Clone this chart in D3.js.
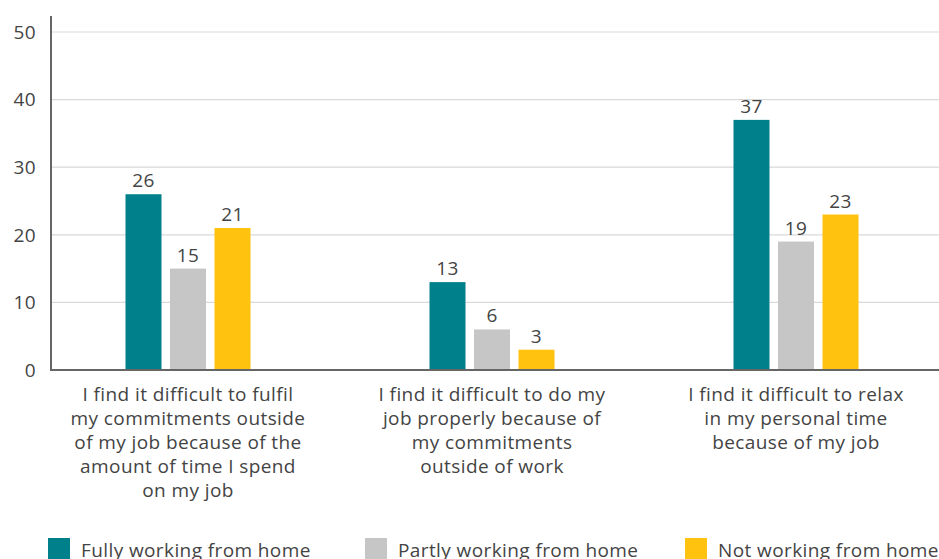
<!DOCTYPE html>
<html>
<head>
<meta charset="utf-8">
<script src="https://cdn.jsdelivr.net/npm/d3@7"></script>
<style>
  html, body { margin: 0; padding: 0; background: #fff; }
  svg { display: block; font-family: "Open Sans", "Lato", sans-serif; letter-spacing: 0.4px; }
</style>
</head>
<body>
<svg id="chart" width="939" height="559"></svg>
<script>
// Survey statements (category labels, pre-broken into lines)
const categories = [
  ["I find it difficult to fulfil", "my commitments outside", "of my job because of the", "amount of time I spend", "on my job"],
  ["I find it difficult to do my", "job properly because of", "my commitments", "outside of work"],
  ["I find it difficult to relax", "in my personal time", "because of my job"]
];
const seriesNames = ["Fully working from home", "Partly working from home", "Not working from home"];
const fullyValues = [26, 13, 37];
const partlyValues = [15, 6, 19];
const notValues = [21, 3, 23];
const yTicks = [0, 10, 20, 30, 40, 50];
const colors = ["#00808A", "#C6C6C6", "#FFC20E"];

const seriesValues = [fullyValues, partlyValues, notValues];
const svg = d3.select("#chart");

const axisX = 51, plotRight = 939;
const y = d3.scaleLinear().domain([0, 50]).range([370, 32]);

const catIdx = categories.map((_, i) => i);
const x0 = d3.scaleBand().domain(catIdx).range([36, 948]);
const x1 = d3.scaleBand().domain(d3.range(seriesNames.length))
  .range([-62.5, 62.5]).paddingInner(0.191);

// Gridlines
svg.append("g").selectAll("line").data(yTicks.filter(t => t > 0)).join("line")
  .attr("x1", axisX).attr("x2", plotRight)
  .attr("y1", d => y(d)).attr("y2", d => y(d))
  .attr("stroke", "#d9d9d9").attr("stroke-width", 1.2);

// Y tick labels
svg.append("g").selectAll("text").data(yTicks).join("text")
  .attr("x", 36).attr("y", d => y(d)).attr("dy", "0.36em")
  .attr("text-anchor", "end").attr("font-size", 19).attr("fill", "#444")
  .text(d => d);

// Bars
const groups = svg.append("g").selectAll("g").data(catIdx).join("g")
  .attr("transform", i => `translate(${x0(i) + x0.bandwidth() / 2},0)`);

groups.selectAll("rect").data(i => seriesValues.map((vals, s) => ({ s, v: vals[i] }))).join("rect")
  .attr("x", d => x1(d.s)).attr("width", x1.bandwidth())
  .attr("y", d => y(d.v)).attr("height", d => y(0) - y(d.v))
  .attr("fill", d => colors[d.s]);

groups.selectAll("text.val").data(i => seriesValues.map((vals, s) => ({ s, v: vals[i] }))).join("text")
  .attr("class", "val")
  .attr("x", d => x1(d.s) + x1.bandwidth() / 2).attr("y", d => y(d.v) - 7)
  .attr("text-anchor", "middle").attr("font-size", 19).attr("fill", "#444")
  .text(d => d.v);

// Axes lines
svg.append("line").attr("x1", axisX).attr("x2", axisX).attr("y1", 16).attr("y2", 371)
  .attr("stroke", "#666").attr("stroke-width", 2);
svg.append("line").attr("x1", axisX - 1).attr("x2", plotRight).attr("y1", 370).attr("y2", 370)
  .attr("stroke", "#666").attr("stroke-width", 2);

// Category labels
groups.append("text")
  .attr("text-anchor", "middle").attr("font-size", 19).attr("fill", "#444")
  .selectAll("tspan").data(i => categories[i]).join("tspan")
  .attr("x", 0).attr("y", (d, k) => 401 + k * 24)
  .text(d => d);

// Legend
const legendX = [48, 365, 685];
const legend = svg.append("g").selectAll("g").data(seriesNames).join("g")
  .attr("transform", (d, i) => `translate(${legendX[i]},538)`);
legend.append("rect").attr("width", 22).attr("height", 22).attr("fill", (d, i) => colors[i]);
legend.append("text").attr("x", 33).attr("y", 19).attr("font-size", 19).attr("fill", "#444")
  .text(d => d);
</script>
</body>
</html>
